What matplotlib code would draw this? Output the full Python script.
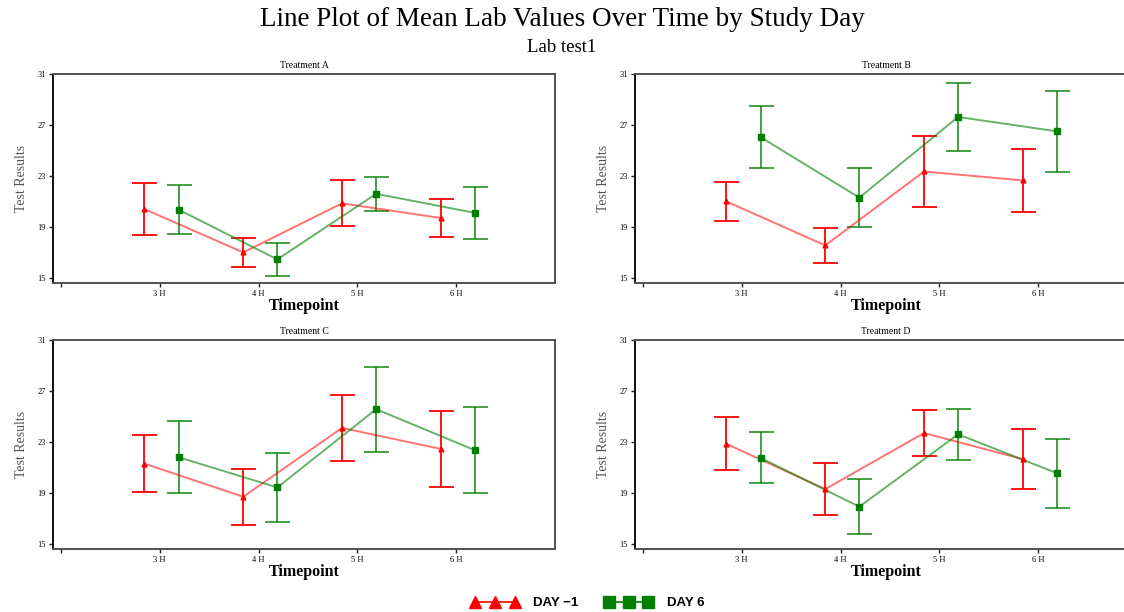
import matplotlib
matplotlib.use("Agg")
import matplotlib.pyplot as plt
import numpy as np
from matplotlib.lines import Line2D

# ---- data ----
timepoints = ["3 H", "4 H", "5 H", "6 H"]
tp_values = [3, 4, 5, 6]
treatments = ["Treatment A", "Treatment B", "Treatment C", "Treatment D"]
series_labels = ["DAY \u22121", "DAY 6"]

day_m1_mean = {
    "Treatment A": [20.4, 17.0, 20.85, 19.7],
    "Treatment B": [21.0, 17.55, 23.35, 22.65],
    "Treatment C": [21.3, 18.7, 24.1, 22.45],
    "Treatment D": [22.85, 19.3, 23.7, 21.65],
}
day_m1_err = {
    "Treatment A": [2.05, 1.15, 1.8, 1.5],
    "Treatment B": [1.5, 1.37, 2.78, 2.44],
    "Treatment C": [2.23, 2.2, 2.6, 2.95],
    "Treatment D": [2.09, 2.01, 1.84, 2.37],
}
day_6_mean = {
    "Treatment A": [20.36, 16.45, 21.6, 20.1],
    "Treatment B": [26.05, 21.3, 27.63, 26.5],
    "Treatment C": [21.8, 19.43, 25.57, 22.35],
    "Treatment D": [21.75, 17.92, 23.6, 20.55],
}
day_6_err = {
    "Treatment A": [1.9, 1.27, 1.35, 2.06],
    "Treatment B": [2.43, 2.32, 2.69, 3.16],
    "Treatment C": [2.84, 2.73, 3.33, 3.37],
    "Treatment D": [2.01, 2.14, 2.02, 2.7],
}
y_ticks = [15, 19, 23, 27, 31]

# ---- style ----
serif = ["Liberation Serif", "DejaVu Serif"]
red = "#ff0000"
green = "#008000"
spine_col = "#505050"

fig = plt.figure(figsize=(11.24, 6.12), dpi=100)
W, H = 1124.0, 612.0

# axes positions in pixels: left, top, right, bottom
boxes = [
    (53, 74, 555, 283),
    (635, 74, 1137, 283),
    (53, 340, 555, 549),
    (635, 340, 1137, 549),
]
off_red = -0.155
off_green = 0.19

for tr, (l, t, r, b) in zip(treatments, boxes):
    ax = fig.add_axes([l / W, 1 - b / H, (r - l) / W, (b - t) / H])
    x = np.array(tp_values, dtype=float)
    ax.errorbar(x + off_red, day_m1_mean[tr], yerr=day_m1_err[tr], fmt="none",
                ecolor=red, elinewidth=1.3, capsize=9, capthick=1.3, zorder=2)
    ax.plot(x + off_red, day_m1_mean[tr], color=red, alpha=0.55, lw=1.4, zorder=3)
    ax.plot(x + off_red, day_m1_mean[tr], ls="none", marker="^", ms=3.5, color=red, zorder=4)
    ax.errorbar(x + off_green, day_6_mean[tr], yerr=day_6_err[tr], fmt="none",
                ecolor=green, elinewidth=1.3, capsize=9, capthick=1.3, alpha=0.8, zorder=2)
    ax.plot(x + off_green, day_6_mean[tr], color=green, alpha=0.6, lw=1.4, zorder=3)
    ax.plot(x + off_green, day_6_mean[tr], ls="none", marker="s", ms=5, color=green, zorder=4)

    ax.set_xlim(1.92, 7.0)
    ax.set_ylim(14.6, 31)
    ax.set_xticks([2] + tp_values)
    ax.set_xticklabels([""] + timepoints, fontfamily=serif, fontsize=6)
    ax.set_yticks(y_ticks)
    ax.set_yticklabels([str(v) for v in y_ticks], fontfamily=serif, fontsize=6)
    ax.tick_params(axis="both", length=3, width=1, color="#222222", pad=2)
    for s in ax.spines.values():
        s.set_color(spine_col)
        s.set_linewidth(1.4)
    ax.spines["left"].set_color("#111111")
    ax.set_title(tr, fontfamily=serif, fontsize=7, pad=4)
    ax.set_ylabel("Test Results", fontfamily=serif, fontsize=10, color="#555555", labelpad=7)
    ax.set_xlabel("Timepoint", fontfamily=serif, fontsize=11.5, fontweight="bold", labelpad=0)

fig.text(0.5, 1 - 20 / H, "Line Plot of Mean Lab Values Over Time by Study Day",
         ha="center", va="center", fontfamily=serif, fontsize=19.5)
fig.text(0.5, 1 - 48 / H, "Lab test1", ha="center", va="center",
         fontfamily=serif, fontsize=13.5)

handles = [
    Line2D([], [], color=red, marker="^", ms=8, lw=1.2),
    Line2D([], [], color=green, marker="s", ms=9, lw=1.2),
]
fig.legend(handles, series_labels, loc="center", bbox_to_anchor=(0.523, 1 - 603 / H),
           ncol=2, frameon=False, numpoints=3, handlelength=3.6, handletextpad=1.1,
           columnspacing=2.0,
           prop={"family": ["Liberation Sans", "DejaVu Sans"], "weight": "bold", "size": 9.5})

fig.savefig("out.png", dpi=100)
